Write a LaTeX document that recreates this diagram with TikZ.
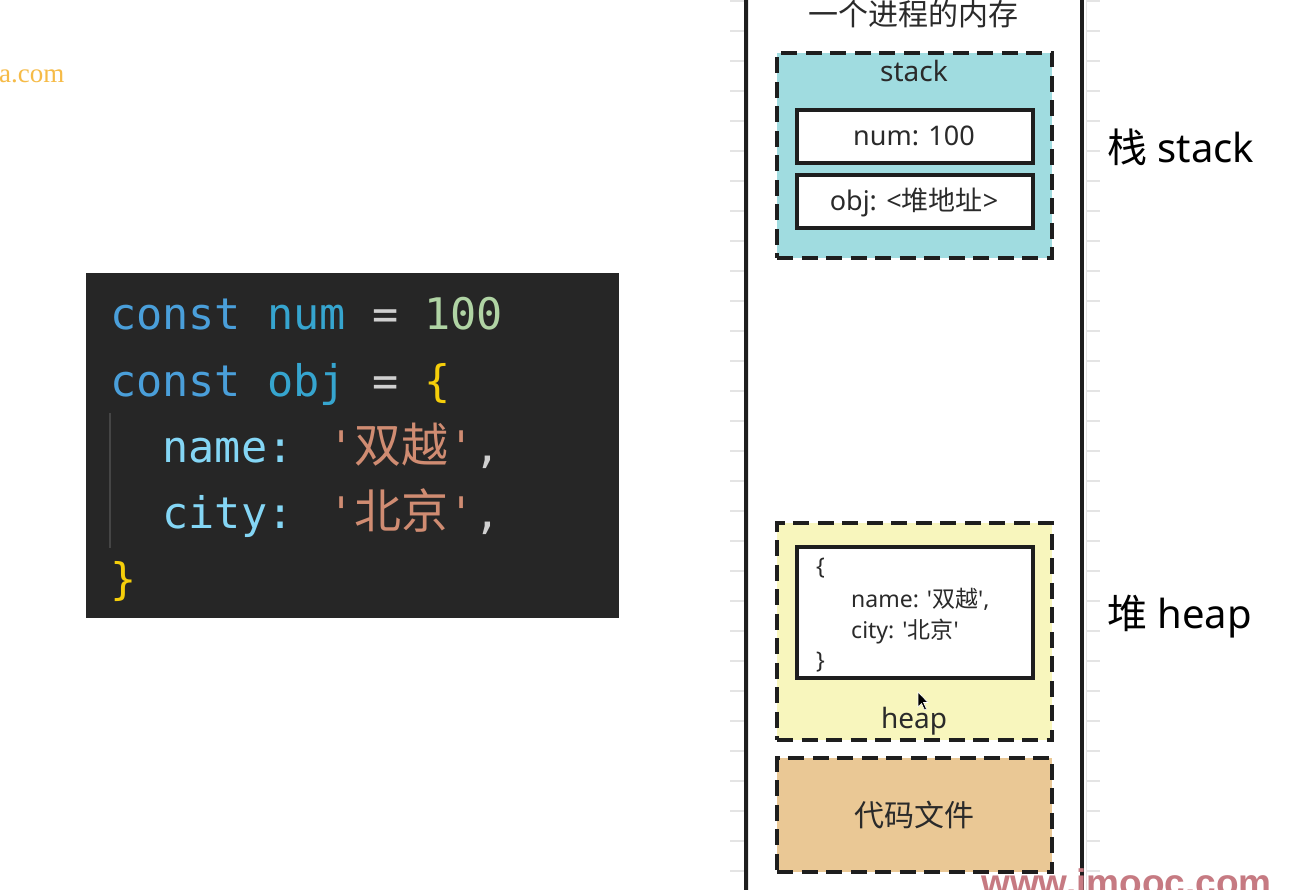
\documentclass[tikz,border=0pt]{standalone}
\usepackage{fontspec}
\setmainfont{Noto Sans}[Ligatures=TeXOff]
\newfontfamily\cjk{Noto Sans CJK SC}[Ligatures=TeXOff]
\newfontfamily\codefont{DejaVu Sans Mono}[Ligatures=TeXOff]
\newfontfamily\wmserif{Liberation Serif}
\newfontfamily\wmsans{Liberation Sans}
\definecolor{codebg}{HTML}{262626}
\definecolor{ckw}{HTML}{4A9FDA}
\definecolor{cvar}{HTML}{36A5CF}
\definecolor{cprop}{HTML}{84D6F5}
\definecolor{cnum}{HTML}{B0D4A4}
\definecolor{cop}{HTML}{D0D0D0}
\definecolor{cbrace}{HTML}{F5CE0A}
\definecolor{cstr}{HTML}{D08C72}
\definecolor{cguide}{HTML}{454545}
\definecolor{linedark}{HTML}{1E1E1E}
\definecolor{textdark}{HTML}{2A2A2A}
\definecolor{stackfill}{HTML}{A0DCE0}
\definecolor{heapfill}{HTML}{F8F6BD}
\definecolor{filefill}{HTML}{EAC895}
\definecolor{gridgray}{HTML}{E4E4E4}
\definecolor{wmorange}{HTML}{F6BB47}
\definecolor{wmred}{HTML}{C67A82}
\newcommand\fsz[1]{\fontsize{#1}{#1}\selectfont}
\newcommand\kw[1]{\textcolor{ckw}{#1}}
\newcommand\vr[1]{\textcolor{cvar}{#1}}
\newcommand\pr[1]{\textcolor{cprop}{#1}}
\newcommand\nm[1]{\textcolor{cnum}{#1}}
\newcommand\op[1]{\textcolor{cop}{#1}}
\newcommand\br[1]{\textcolor{cbrace}{#1}}
\newcommand\st[1]{\textcolor{cstr}{#1}}
\newcommand\cc[1]{{\cjk\fsz{47}#1}}
\newcommand\sq{\symbol{39}}
\tikzset{
  codeline/.style={anchor=base west, inner sep=0, font=\codefont\fsz{43.5}},
  memouter/.style={draw=linedark, line width=4pt},
  region/.style={draw=linedark, line width=3.8pt, dash pattern=on 16pt off 8.5pt, inner sep=0},
  cell/.style={draw=linedark, line width=3.5pt, fill=white, inner sep=0},
  lbl/.style={inner sep=0, text=textdark},
  tick/.style={draw=gridgray, line width=1.5pt},
}
\begin{document}
\begin{tikzpicture}[x=1pt,y=-1pt]
\useasboundingbox (0,0) rectangle (1311,890);
\clip (0,0) rectangle (1311,890);
\fill[white] (0,0) rectangle (1311,890);

% background grid remnants
\draw[gridgray, line width=1pt] (1086,-5) -- (1086,895);
\draw[gridgray, line width=1pt] (748,-5) -- (748,895);
\foreach \k in {0,...,29}{
  \draw[tick] (730,{1+30*\k}) -- (744,{1+30*\k});
  \draw[tick] (1086,{1+30*\k}) -- (1100,{1+30*\k});
}

% watermark top-left
\node[anchor=base west, inner sep=0, text=wmorange, font=\wmserif\fsz{27}] (wm1) at (-1,83) {a.com};

% code panel
\node[fill=codebg, minimum width=533pt, minimum height=345pt, inner sep=0] (panel) at (352.5,445.5) {};
\draw[cguide, line width=1.5pt] (110,413) -- (110,548);
\node[codeline] (c1) at (110,330) {\kw{const} \vr{num} \op{=} \nm{100}};
\node[codeline] (c2) at (110,396) {\kw{const} \vr{obj} \op{=} \br{\{}};
\node[codeline] (c3) at (162.4,462) {\pr{name}\pr{:} \st{\sq\cc{双越}\sq}\op{,}};
\node[codeline] (c4) at (162.4,528) {\pr{city}\pr{:} \st{\sq\cc{北京}\sq}\op{,}};
\node[codeline] (c5) at (110,594) {\br{\}}};

% process memory
\node[memouter, minimum width=336pt, minimum height=920pt, inner sep=0] (mem) at (913.5,445) {};
\node[lbl, font=\cjk\fsz{30}] (title) at (913,14) {一个进程的内存};

% stack region
\node[region, fill=stackfill, minimum width=275pt, minimum height=205pt] (stack) at (914.5,155.5) {};
\node[lbl, anchor=base, font=\fsz{28}] (stacklbl) at (914,82) {stack};
\node[cell, minimum width=236pt, minimum height=53pt] (numcell) at (915,136.5) {};
\node[lbl, anchor=base, font=\fsz{27}] (numtxt) at (914,146) {num: 100};
\node[cell, minimum width=236pt, minimum height=53pt] (objcell) at (915,201.5) {};
\node[lbl, anchor=base, font=\fsz{27}] (objtxt) at (914,211) {obj: <{\cjk 堆地址}>};

% heap region
\node[region, fill=heapfill, minimum width=275pt, minimum height=217pt] (heap) at (914.5,631.5) {};
\node[cell, minimum width=236pt, minimum height=131pt] (heapcell) at (915,612.5) {};
\node[lbl, anchor=base west, font=\fsz{23}] (h1) at (816,574) {\{};
\node[lbl, anchor=base west, font=\fsz{23}] (h2) at (851,607) {name: '{\cjk 双越}',};
\node[lbl, anchor=base west, font=\fsz{23}] (h3) at (851,638) {city: '{\cjk 北京}'};
\node[lbl, anchor=base west, font=\fsz{23}] (h4) at (816,668) {\}};
\node[lbl, anchor=base, font=\fsz{28}] (heaplbl) at (914,728) {heap};

% mouse pointer
\fill[black, draw=white, line width=0.6pt] (918,692) -- (918,707) -- (921.5,703.5) -- (924.5,710) -- (926.5,709) -- (923.5,702.5) -- (928,702.5) -- cycle;

% code file region
\node[region, fill=filefill, minimum width=275pt, minimum height=114pt] (file) at (914.5,815) {};
\node[lbl, font=\cjk\fsz{30}] (filetxt) at (914,815) {代码文件};

% side labels
\node[anchor=base west, inner sep=0, font=\fsz{40}] (stackside) at (1107,163) {{\cjk 栈} stack};
\node[anchor=base west, inner sep=0, font=\fsz{40}] (heapside) at (1107,628) {{\cjk 堆} heap};

% watermark bottom
\node[anchor=base west, inner sep=0, text=wmred, font=\wmsans\bfseries\fsz{37}] (wm2) at (981,895) {www.imooc.com};
\end{tikzpicture}
\end{document}
